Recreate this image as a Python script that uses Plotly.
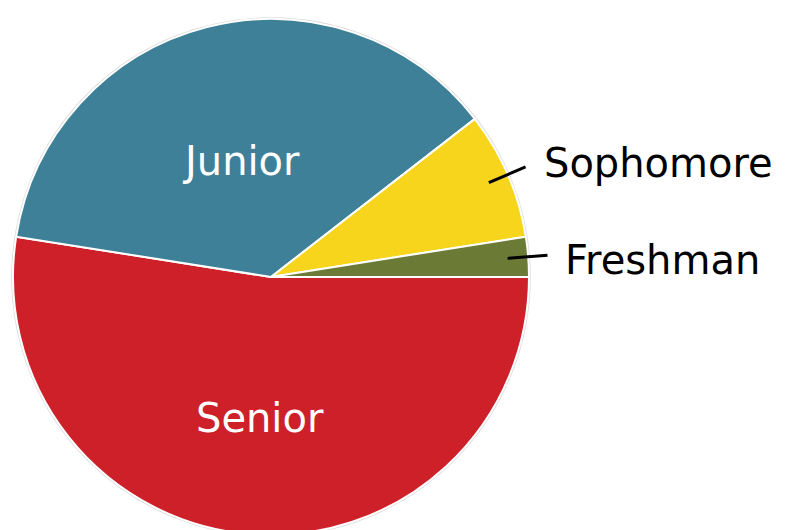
import math
import plotly.graph_objects as go

# ---- data (counterclockwise from 3 o'clock) ----
labels = ["Freshman", "Sophomore", "Junior", "Senior"]
values = [2.5, 8, 37, 52.5]
colors = ["#6B7B36", "#F7D51D", "#3D8097", "#CE2029"]
label_inside = [False, False, True, True]

# ---- geometry / label placement (pixels) ----
W, H = 789, 545
CX, CY, R = 271, 277, 258
inside_radius = [0, 0, 0.465, 0.55]
outside_dy = [5, -4, 0, 0]

def px_to_paper(x, y):
    return x / W, 1 - y / H

# plotly draws clockwise from 3 o'clock, so feed the slices in reverse order
fig = go.Figure(go.Pie(
    labels=labels[::-1], values=values[::-1], sort=False,
    direction="clockwise", rotation=90,
    marker=dict(colors=colors[::-1], line=dict(color="white", width=2)),
    textinfo="none", hoverinfo="label+percent", showlegend=False,
    domain=dict(x=[(CX - R) / W, (CX + R) / W],
                y=[1 - (CY + R) / H, 1 - (CY - R) / H]),
))

total = sum(values)
cum = 0
annotations, shapes = [], []
# faint outer rim
c0 = px_to_paper(CX - R - 1, CY + R + 1)
c1 = px_to_paper(CX + R + 1, CY - R - 1)
shapes.append(dict(type="circle", xref="paper", yref="paper", layer="below",
                   x0=c0[0], y0=c0[1], x1=c1[0], y1=c1[1],
                   line=dict(color="#dadada", width=1.5)))
for lab, v, inside, rr, ody in zip(labels, values, label_inside, inside_radius, outside_dy):
    mid = (cum + v / 2) / total * 2 * math.pi
    cum += v
    dx, dy = math.cos(mid), -math.sin(mid)
    if inside:
        x, y = px_to_paper(CX + rr * R * dx, CY + rr * R * dy)
        annotations.append(dict(x=x, y=y, xref="paper", yref="paper", text=lab,
                                showarrow=False, xanchor="center", yanchor="middle",
                                font=dict(family="DejaVu Sans", size=40, color="white")))
    else:
        x0, y0 = CX + 0.92 * R * dx, CY + 0.92 * R * dy
        x1, y1 = CX + 1.075 * R * dx, CY + 1.075 * R * dy
        p0, p1 = px_to_paper(x0, y0), px_to_paper(x1, y1)
        shapes.append(dict(type="line", xref="paper", yref="paper",
                           x0=p0[0], y0=p0[1], x1=p1[0], y1=p1[1],
                           line=dict(color="black", width=3)))
        tx, ty = px_to_paper(x1 + 16, y1 + ody)
        annotations.append(dict(x=tx, y=ty, xref="paper", yref="paper", text=lab,
                                showarrow=False, xanchor="left", yanchor="middle",
                                font=dict(family="DejaVu Sans", size=40, color="black")))

fig.update_layout(width=W, height=H, margin=dict(l=0, r=0, t=0, b=0),
                  paper_bgcolor="white", plot_bgcolor="white",
                  annotations=annotations, shapes=shapes)

fig.write_html("out.html", config={"displayModeBar": False},
               post_script="document.body.style.margin='0';document.body.style.overflow='hidden';")
